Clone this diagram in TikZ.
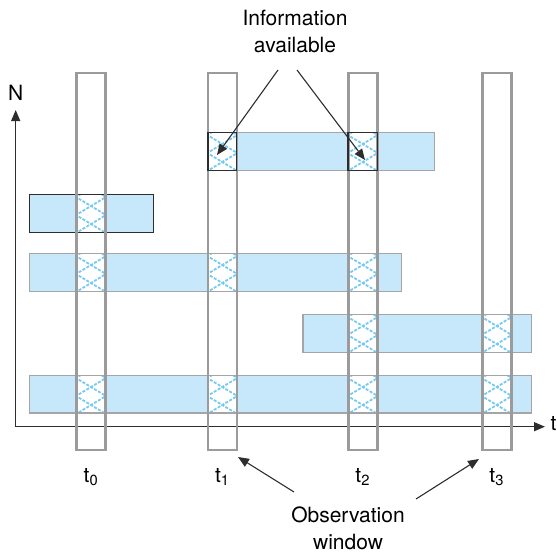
\documentclass[tikz,border=0pt]{standalone}
\usepackage{fontspec}
\setmainfont{TeX Gyre Heros}
\usetikzlibrary{arrows.meta,positioning}
\definecolor{cbar}{RGB}{198,232,250}
\definecolor{chatch}{RGB}{120,202,240}
\definecolor{cwin}{RGB}{155,155,155}
\definecolor{cedge}{RGB}{165,165,165}
\definecolor{cdark}{RGB}{45,45,45}
\tikzset{
  window/.style={draw=cwin, line width=2.6pt, minimum width=29pt,
    minimum height=377pt, inner sep=0pt},
  hatchline/.style={chatch, line width=1.8pt, dash pattern=on 3pt off 1.5pt},
  cellbox/.style={draw=cdark, line width=1.4pt},
  axis/.style={cdark, line width=1.2pt, ->},
  pointer/.style={cdark, line width=1.1pt, ->},
  caption/.style={align=center, font={\fontsize{21}{27}\selectfont}}
}
% one hatched cell: centre x, top y
\newcommand{\hatchcell}[2]{%
  \begin{scope}
    \clip ({#1-14.5},#2) rectangle ({#1+14.5},{#2+38});
    \fill[white] ({#1-14.5},#2) rectangle ({#1+14.5},{#2+38});
    \foreach \k in {-2,...,3}{
      \draw[hatchline] ({#1-20},{#2+18*\k-0.5}) -- ({#1+20},{#2+18*\k+23.5});
      \draw[hatchline] ({#1-20},{#2+18*\k+23.5}) -- ({#1+20},{#2+18*\k-0.5});
    }
  \end{scope}}

\begin{document}
\begin{tikzpicture}[x=1pt, y=-1pt, >={Triangle[length=11pt,width=9pt]},
  font={\fontsize{21}{27}\selectfont}]
\useasboundingbox (0,0) rectangle (557,554);

% bars
\foreach \xa/\ya/\xb/\yb in {208/132.5/434.5/170.5, 29.5/194.5/153.5/232.5,
    29.5/253.5/401.5/291.5, 303/314.5/531.5/352.5, 29.5/375.5/531.5/413}
  \fill[cbar] (\xa,\ya) rectangle (\xb,\yb);

% information cells
\foreach \xc/\yt in {222.3/132.5, 362.7/132.5, 91/194.5, 91/253.5, 222.3/253.5,
    362.7/253.5, 362.7/314.5, 496.7/314.5, 91/375.5, 222.3/375.5, 362.7/375.5,
    496.7/375.5}
  \hatchcell{\xc}{\yt};

\foreach \xa/\ya/\xb/\yb/\ec in {208/132.5/434.5/170.5/cedge,
    29.5/194.5/153.5/232.5/cdark, 29.5/253.5/401.5/291.5/cedge,
    303/314.5/531.5/352.5/cedge, 29.5/375.5/531.5/413/cedge}
  \draw[\ec, line width=1.4pt] (\xa,\ya) rectangle (\xb,\yb);

% axes
\coordinate (O) at (15.7,426.7);
\coordinate (ytip) at (15.7,110);
\coordinate (xtip) at (545,426.7);
\draw[axis] (O) -- (ytip);
\draw[axis] (O) -- (xtip);
\node[above=6pt of ytip] (lblN) {N};
\node[right=2pt of xtip, yshift=3pt] (lblt) {t};

% observation windows
\node[window] (w0) at (91,261.5) {};
\node[window] (w1) at (222.3,261.5) {};
\node[window] (w2) at (362.7,261.5) {};
\node[window] (w3) at (496.7,261.5) {};
\node[anchor=base] (t0) at (91,482) {t\textsubscript{0}};
\node[anchor=base] (t1) at (222.3,482) {t\textsubscript{1}};
\node[anchor=base] (t2) at (362.7,482) {t\textsubscript{2}};
\node[anchor=base] (t3) at (496.7,482) {t\textsubscript{3}};

\draw[cellbox] (208,132.5) rectangle (236.7,170.5);
\draw[cellbox] (348,132.5) rectangle (377.3,170.5);

% callouts
\node[caption] (info) at (295,31) {Information\\available};
\node[caption] (obs) at (348,528) {Observation\\window};
\coordinate (infoL) at (278,70);
\coordinate (infoR) at (297,70);
\coordinate (hitA1) at (217,155);
\coordinate (hitA2) at (365,160);
\coordinate (obsL) at (294,492);
\coordinate (obsR) at (416,499);
\coordinate (hitW1) at (238,457);
\coordinate (hitW3) at (479,459);
\draw[pointer] (infoL) -- (hitA1);
\draw[pointer] (infoR) -- (hitA2);
\draw[pointer] (obsL) -- (hitW1);
\draw[pointer] (obsR) -- (hitW3);
\end{tikzpicture}
\end{document}
